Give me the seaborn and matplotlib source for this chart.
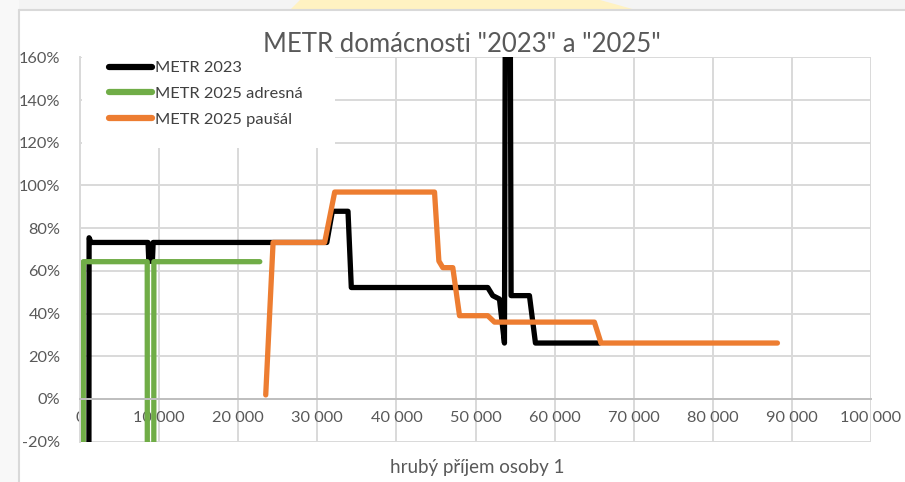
import numpy as np
import pandas as pd
import matplotlib
matplotlib.use("Agg")
import matplotlib.pyplot as plt
from matplotlib.patches import Rectangle, Polygon
from matplotlib.lines import Line2D
from matplotlib.ticker import FuncFormatter, MultipleLocator
import seaborn as sns

# ---- data ----
metr2023_x = [1100, 1150, 1400, 8600, 8700, 9150, 9250, 31200, 31900, 33880, 34300,
              51550, 52180, 53030, 53660, 53850, 54300, 54500, 56820, 57580, 65660]
metr2023_y = [-1.5, 0.755, 0.733, 0.733, 0.645, 0.645, 0.733, 0.733, 0.879, 0.879, 0.522,
              0.522, 0.484, 0.468, 0.262, 3.0, 3.0, 0.484, 0.484, 0.262, 0.262]

adresna_x = [400, 420, 8500, 8520, 9320, 9340, 22730]
adresna_y = [-1.5, 0.643, 0.643, -1.5, -1.5, 0.643, 0.643]

pausal_x = [23480, 24410, 30930, 32200, 44820, 45370, 45870, 47130, 47980, 51550,
            52400, 65030, 65870, 88170]
pausal_y = [0.019, 0.733, 0.733, 0.969, 0.969, 0.646, 0.615, 0.615, 0.39, 0.39,
            0.36, 0.36, 0.262, 0.262]

series_names = ["METR 2023", "METR 2025 adresná", "METR 2025 paušál"]
colors = ["#000000", "#70AD47", "#ED7D31"]
title = 'METR domácnosti "2023" a "2025"'
xlabel = "hrubý příjem osoby 1"

frames = []
for name, xs, ys in zip(series_names, [metr2023_x, adresna_x, pausal_x],
                        [metr2023_y, adresna_y, pausal_y]):
    frames.append(pd.DataFrame({"x": xs, "y": ys, "serie": name}))
df = pd.concat(frames, ignore_index=True)

# ---- figure ----
sns.set_theme(style="white")
plt.rcParams["font.family"] = ["Lato", "DejaVu Sans"]

W, H = 905, 482
fig = plt.figure(figsize=(W / 100, H / 100), dpi=100)
fig.patch.set_facecolor("white")

# screenshot surroundings
fig.add_artist(Rectangle((0, 1 - 10 / H), 1, 10 / H, transform=fig.transFigure,
                         facecolor="#F4F4F4", edgecolor="none", zorder=0))
fig.add_artist(Rectangle((0, 0), 19 / W, 1, transform=fig.transFigure,
                         facecolor="#F8F8F8", edgecolor="none", zorder=0))
fig.add_artist(Polygon([(300 / W, 1), (600 / W, 1), (636 / W, 1 - 10 / H), (290 / W, 1 - 10 / H)],
                       closed=True, transform=fig.transFigure,
                       facecolor="#FFF2C2", edgecolor="none", zorder=0.5))
fig.add_artist(Line2D([19 / W, 19 / W], [0, 1 - 10 / H], transform=fig.transFigure,
                      color="#D9D9D9", lw=1.5))
fig.add_artist(Line2D([19 / W, 1], [1 - 10 / H, 1 - 10 / H], transform=fig.transFigure,
                      color="#D9D9D9", lw=1.5))

left, right = 80 / W, 871 / W
top, bottom = 1 - 57.3 / H, 1 - 441.7 / H
ax = fig.add_axes([left, bottom, right - left, top - bottom])
ax.set_facecolor("white")

for name, c in zip(series_names, colors):
    sub = df[df["serie"] == name]
    sns.lineplot(data=sub, x="x", y="y", sort=False, estimator=None, color=c, lw=3.8,
                 ax=ax, legend=False, solid_joinstyle="round", solid_capstyle="round",
                 zorder=2)

ax.set_xlim(0, 100000)
ax.set_ylim(-0.2, 1.6)
ax.xaxis.set_major_locator(MultipleLocator(10000))
ax.yaxis.set_major_locator(MultipleLocator(0.2))
ax.xaxis.set_major_formatter(FuncFormatter(lambda v, p: f"{int(round(v)):,}".replace(",", " ")))
ax.yaxis.set_major_formatter(FuncFormatter(lambda v, p: f"{v * 100:.0f}%"))

ax.set_axisbelow(True)
ax.grid(True, color="#D9D9D9", lw=1.4)
for s in ["top", "right"]:
    ax.spines[s].set_visible(False)
ax.spines["left"].set_color("#D9D9D9")
ax.spines["left"].set_linewidth(1.4)
ax.spines["bottom"].set_position(("data", 0))
ax.spines["bottom"].set_color("#BFBFBF")
ax.spines["bottom"].set_linewidth(1.4)
ax.tick_params(axis="both", length=0, colors="#595959", labelsize=11.8)
ax.tick_params(axis="x", pad=9)
ax.tick_params(axis="y", pad=14)
ax.set_xlabel("")
ax.set_ylabel("")

# white legend block covering gridlines
ax.add_patch(Rectangle((2 / 791, 1 - 91 / 384.4), 253 / 791, 91 / 384.4,
                       transform=ax.transAxes, facecolor="white", edgecolor="none", zorder=1))

handles = [Line2D([0], [0], color=c, lw=4.5, solid_capstyle="round") for c in colors]
leg = fig.legend(handles, series_names, loc="upper left",
                 bbox_to_anchor=(109 / W, 1 - 61 / H), frameon=False,
                 fontsize=11.8, handlelength=2.6, handletextpad=0.2,
                 labelspacing=0.68, borderpad=0, borderaxespad=0)
for t in leg.get_texts():
    t.set_color("#404040")

fig.text(462 / W, 1 - 45 / H, title, ha="center", va="center", fontsize=18.5, color="#595959")
fig.text(477 / W, 1 - 467 / H, xlabel, ha="center", va="center", fontsize=13.5, color="#595959")

fig.savefig("out.png", dpi=100)
